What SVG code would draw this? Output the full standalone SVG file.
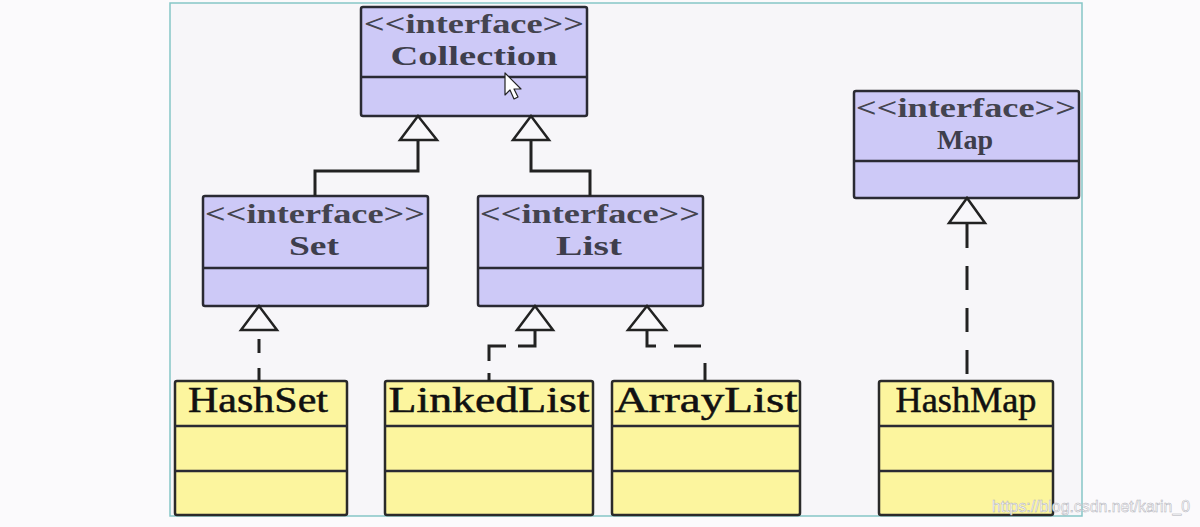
<svg xmlns="http://www.w3.org/2000/svg" width="1200" height="527" viewBox="0 0 1200 527">
<style>
.iface{fill:#cdc9f7;stroke:#2a2a33;stroke-width:2.5}
.cls{fill:#fcf59e;stroke:#2a2a2a;stroke-width:2.5}
.div{stroke:#2a2a33;stroke-width:2.5}
.st{font-family:"Liberation Serif",serif;font-size:27px;font-weight:bold;fill:#44444f;text-anchor:middle}
.nm{font-family:"Liberation Serif",serif;font-size:28px;font-weight:bold;fill:#3e3e4c;text-anchor:middle}
.cn{font-family:"Liberation Serif",serif;font-size:35px;fill:#111;stroke:#111;stroke-width:0.5;text-anchor:middle}
.ln{fill:none;stroke:#222;stroke-width:3}
.tri{fill:#f8f7fa;stroke:#222;stroke-width:2.5;stroke-linejoin:miter}
</style>
<rect x="0" y="0" width="1200" height="527" fill="#fbfafc"/>
<rect x="170" y="3" width="912" height="513" fill="#f7f6f9" stroke="#86c6c6" stroke-width="1.5"/>

<g id="Collection">
<rect class="iface" x="361" y="7" width="226" height="109" rx="2"/>
<line class="div" x1="361" y1="77" x2="587" y2="77"/>
<text class="st" x="474" y="33" textLength="220" lengthAdjust="spacingAndGlyphs">&lt;&lt;interface&gt;&gt;</text>
<text class="nm" x="474" y="65" textLength="167" lengthAdjust="spacingAndGlyphs">Collection</text>
</g>

<g id="Set">
<rect class="iface" x="203" y="196" width="225" height="110" rx="2"/>
<line class="div" x1="203" y1="268" x2="428" y2="268"/>
<text class="st" x="315" y="223" textLength="220" lengthAdjust="spacingAndGlyphs">&lt;&lt;interface&gt;&gt;</text>
<text class="nm" x="314" y="255" textLength="50" lengthAdjust="spacingAndGlyphs">Set</text>
</g>

<g id="List">
<rect class="iface" x="478" y="196" width="225" height="110" rx="2"/>
<line class="div" x1="478" y1="268" x2="703" y2="268"/>
<text class="st" x="590" y="223" textLength="220" lengthAdjust="spacingAndGlyphs">&lt;&lt;interface&gt;&gt;</text>
<text class="nm" x="589" y="255" textLength="66" lengthAdjust="spacingAndGlyphs">List</text>
</g>

<g id="Map">
<rect class="iface" x="854" y="91" width="225" height="107" rx="2"/>
<line class="div" x1="854" y1="161" x2="1079" y2="161"/>
<text class="st" x="966" y="117" textLength="220" lengthAdjust="spacingAndGlyphs">&lt;&lt;interface&gt;&gt;</text>
<text class="nm" x="965" y="149">Map</text>
</g>

<g id="HashSet">
<rect class="cls" x="175" y="381" width="172" height="134" rx="2"/>
<line class="div" x1="175" y1="426" x2="347" y2="426"/>
<line class="div" x1="175" y1="471" x2="347" y2="471"/>
<text class="cn" x="258" y="412" textLength="140" lengthAdjust="spacingAndGlyphs">HashSet</text>
</g>

<g id="LinkedList">
<rect class="cls" x="385" y="381" width="208" height="134" rx="2"/>
<line class="div" x1="385" y1="426" x2="593" y2="426"/>
<line class="div" x1="385" y1="471" x2="593" y2="471"/>
<text class="cn" x="489" y="412" textLength="201" lengthAdjust="spacingAndGlyphs">LinkedList</text>
</g>

<g id="ArrayList">
<rect class="cls" x="612" y="381" width="188" height="134" rx="2"/>
<line class="div" x1="612" y1="426" x2="800" y2="426"/>
<line class="div" x1="612" y1="471" x2="800" y2="471"/>
<text class="cn" x="706" y="412" textLength="183" lengthAdjust="spacingAndGlyphs">ArrayList</text>
</g>

<g id="HashMap">
<rect class="cls" x="879" y="381" width="174" height="134" rx="2"/>
<line class="div" x1="879" y1="426" x2="1053" y2="426"/>
<line class="div" x1="879" y1="471" x2="1053" y2="471"/>
<text class="cn" x="966" y="412" textLength="141" lengthAdjust="spacingAndGlyphs">HashMap</text>
</g>

<g id="connectors">
<path class="ln" d="M418,140 V171 H315 V196"/>
<path class="ln" d="M531,140 V171 H590 V196"/>
<path class="ln" d="M259,339 V381" stroke-dasharray="14 15"/>
<path class="ln" d="M535,331 V346 H489 V381" stroke-dasharray="32 12"/>
<path class="ln" d="M647,331 V346 H705 V381" stroke-dasharray="24 18 27 21 40"/>
<path class="ln" d="M967,224 V380" stroke-dasharray="24 18"/>
<polygon class="tri" points="418,116 400,140 437,140"/>
<polygon class="tri" points="531,116 513,140 549,140"/>
<polygon class="tri" points="259,306 241,330 277,330"/>
<polygon class="tri" points="535,306 517,330 553,330"/>
<polygon class="tri" points="647,306 628,330 666,330"/>
<polygon class="tri" points="967,198 949,223 985,223"/>
</g>

<g id="cursor">
<path d="M505,73 V95 L510,90 L514,99 L518,97 L514,89 L521,89 Z" fill="#fff" stroke="#222" stroke-width="1.2" stroke-linejoin="round"/>
</g>

<text x="992" y="512" font-family="Liberation Sans,sans-serif" font-size="16" fill="#ffffff" stroke="#b0b0b8" stroke-width="0.5" textLength="198" lengthAdjust="spacingAndGlyphs">https://blog.csdn.net/karin_0</text>
</svg>
